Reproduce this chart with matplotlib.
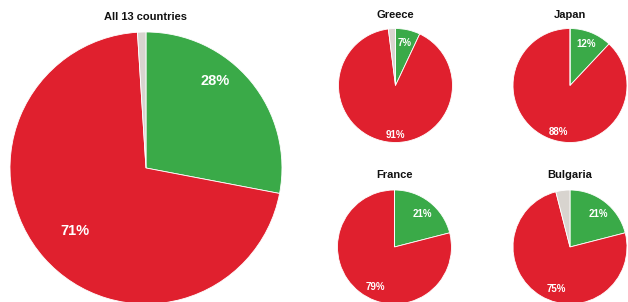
import matplotlib
matplotlib.use("Agg")
import matplotlib.pyplot as plt
import numpy as np

titles = ["All 13 countries", "Greece", "Japan", "France", "Bulgaria"]
green_vals = [28, 7, 12, 21, 21]
red_vals = [71, 91, 88, 79, 75]
gray_vals = [1, 2, 0, 0, 4]

colors = ["#3aaa48", "#e0202e", "#d8d4cf"]

plt.rcParams["font.family"] = ["Liberation Sans", "DejaVu Sans"]

fig = plt.figure(figsize=(6.28, 3.02), dpi=100)

# (left, bottom, width, height) in figure fraction
rects = [
    (0.0159, -0.0066, 0.4331, 0.9007),
    (0.5390, 0.5281, 0.1815, 0.3775),
    (0.8169, 0.5281, 0.1815, 0.3775),
    (0.5374, -0.0066, 0.1815, 0.3775),
    (0.8169, -0.0066, 0.1815, 0.3775),
]
label_sizes = [10.5, 7, 7, 7, 7]
title_sizes = [8, 8, 8, 8, 8]
title_offsets = [1.11, 1.24, 1.24, 1.26, 1.26]
# label placement: (distance, angle shift in degrees) for green, red labels
green_place = [(0.82, 12), (0.76, 0), (0.78, 0), (0.76, -3), (0.76, -3)]
red_place = [(0.70, 0), (0.86, 9), (0.84, 8), (0.78, 12), (0.78, 12)]

for i, t in enumerate(titles):
    ax = fig.add_axes(rects[i])
    vals = [green_vals[i], red_vals[i], gray_vals[i]]
    labels = [f"{green_vals[i]}%", f"{red_vals[i]}%", ""]
    wedges, texts = ax.pie(
        vals, colors=colors, startangle=90, counterclock=False,
        radius=1.0, wedgeprops=dict(edgecolor="white", linewidth=0.6),
    )
    places = [green_place[i], red_place[i], None]
    for w, lab, pl in zip(wedges, labels, places):
        if not lab:
            continue
        d, shift = pl
        ang = np.deg2rad((w.theta1 + w.theta2) / 2 + shift)
        ax.text(d * np.cos(ang), d * np.sin(ang), lab, ha="center", va="center",
                color="white", fontsize=label_sizes[i], fontweight="bold",
                clip_on=False)
    ax.text(0, title_offsets[i], t, ha="center", va="center",
            fontsize=title_sizes[i], fontweight="bold", color="#111111",
            clip_on=False)
    ax.set_xlim(-1, 1)
    ax.set_ylim(-1, 1)
    ax.set_aspect("equal")
    ax.axis("off")

fig.savefig("out.png", dpi=100, facecolor="white")
